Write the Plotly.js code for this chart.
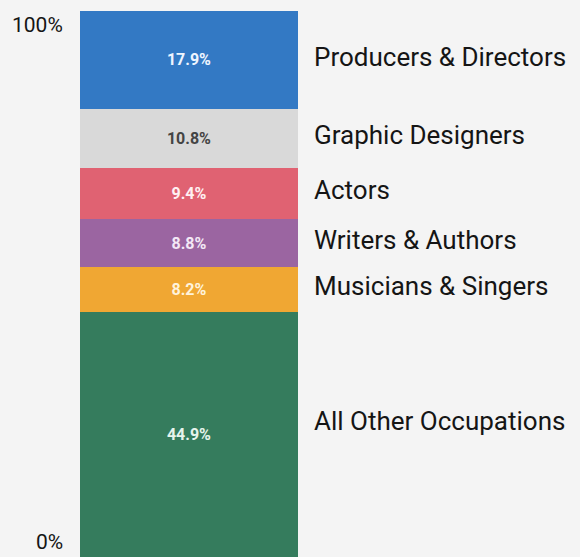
<!DOCTYPE html>
<html>
<head>
<meta charset="utf-8">
<script src="https://cdn.plot.ly/plotly-3.0.1.min.js"></script>
<style>html,body{margin:0;padding:0;background:#f4f4f4;}#chart{width:580px;height:557px;}</style>
</head>
<body>
<div id="chart"></div>
<script>
// Data (bottom to top)
const categories = ["All Other Occupations", "Musicians & Singers", "Writers & Authors", "Actors", "Graphic Designers", "Producers & Directors"];
const shares = [44.9, 8.2, 8.8, 9.4, 10.8, 17.9];
const valueLabels = ["44.9%", "8.2%", "8.8%", "9.4%", "10.8%", "17.9%"];
const axisLabels = ["0%", "100%"];
const axisValues = [0, 100];

const colors = ["#357c5d", "#f0a733", "#9b65a1", "#e06272", "#d9d9d9", "#3379c4"];
const textColors = ["#e6f4ec", "#fff3dc", "#f3e8f6", "#fff0f2", "#444444", "#eef5ff"];

const traces = categories.map((c, i) => ({
  type: "bar",
  x: ["share"],
  y: [shares[i]],
  name: c,
  marker: {color: colors[i], line: {width: 0}},
  text: [valueLabels[i]],
  textposition: "inside",
  insidetextanchor: "middle",
  textangle: 0,
  constraintext: "none",
  textfont: {family: "Roboto, sans-serif", size: 16, color: textColors[i], weight: 700},
  hoverinfo: "skip"
}));

const annotations = [];
let cum = 0;
categories.forEach((c, i) => {
  const mid = cum + shares[i] / 2;
  cum += shares[i];
  annotations.push({
    xref: "paper", yref: "y", x: 1, y: mid,
    xanchor: "left", yanchor: "middle", xshift: 14,
    yshift: i === 0 ? 13 : 3,
    text: c, showarrow: false,
    font: {family: "Roboto, sans-serif", size: 26, color: "#151515"}
  });
});
axisValues.forEach((v, i) => {
  annotations.push({
    xref: "paper", yref: "y", x: 0, y: v,
    xanchor: "right", yanchor: v === 0 ? "bottom" : "top",
    xshift: -15, yshift: v === 0 ? 1 : 0,
    text: axisLabels[i], showarrow: false,
    font: {family: "Roboto, sans-serif", size: 21, color: "#151515"}
  });
});

const layout = {
  width: 580, height: 557,
  margin: {l: 80, r: 282, t: 11, b: 0, pad: 0},
  paper_bgcolor: "#f4f4f4", plot_bgcolor: "#f4f4f4",
  barmode: "stack", bargap: 0,
  showlegend: false,
  xaxis: {visible: false, fixedrange: true},
  yaxis: {visible: false, range: [0, 100], fixedrange: true},
  annotations: annotations
};

Plotly.newPlot("chart", traces, layout, {displayModeBar: false, staticPlot: true});
</script>
</body>
</html>
